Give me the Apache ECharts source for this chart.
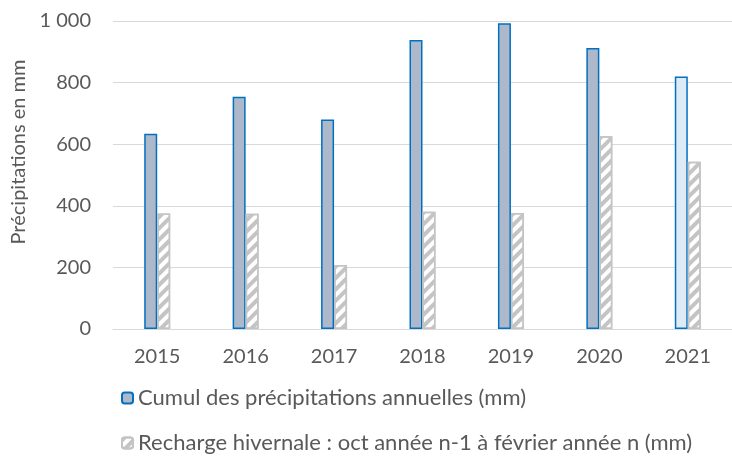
<!DOCTYPE html>
<html>
<head>
<meta charset="utf-8">
<script src="https://cdn.jsdelivr.net/npm/echarts@6/dist/echarts.min.js"></script>
<style>
  html, body { margin: 0; padding: 0; background: #fff; }
  #main { width: 732px; height: 456px; }
</style>
</head>
<body>
<div id="main"></div>
<script>
// years and values
const years = ['2015', '2016', '2017', '2018', '2019', '2020', '2021'];
const cumulAnnuel = [634, 754, 680, 938, 993, 912, 820];
const rechargeHiver = [375, 374, 208, 381, 377, 626, 543];
const yTicks = [0, 200, 400, 600, 800, 1000];

const nameCumul = 'Cumul des précipitations annuelles (mm)';
const nameRecharge = 'Recharge hivernale : oct année n-1 à février année n (mm)';

const textColor = '#595959';
const font = 'Lato';

let chart = echarts.init(document.getElementById('main'));

// last year is drawn in a lighter fill
let cumulData = cumulAnnuel.map(function (v, i) {
  if (i === cumulAnnuel.length - 1) {
    return { value: v, itemStyle: { color: '#DEEBF7' } };
  }
  return v;
});

// one legend per line, like the original
function legendAt(top, name) {
  return {
    left: 121,
    top: top,
    padding: 0,
    itemWidth: 11,
    itemHeight: 11,
    itemGap: 0,
    textStyle: { fontFamily: font, fontSize: 22, color: textColor },
    data: [name]
  };
}

chart.setOption({
  animation: false,
  textStyle: { fontFamily: font },
  grid: { left: 113, right: -7, top: 21, bottom: 127 },
  legend: [legendAt(387, nameCumul), legendAt(432, nameRecharge)],
  xAxis: {
    type: 'category',
    data: years,
    axisLine: { lineStyle: { color: '#d9d9d9', width: 1 } },
    axisTick: { show: false },
    axisLabel: { color: textColor, fontSize: 20, margin: 18, fontFamily: font }
  },
  yAxis: {
    type: 'value',
    min: yTicks[0],
    max: yTicks[yTicks.length - 1],
    interval: 200,
    name: 'Précipitations en mm',
    nameLocation: 'middle',
    nameGap: 82,
    nameTextStyle: { color: textColor, fontSize: 20, fontFamily: font, padding: [0, 0, 0, 46] },
    axisLabel: {
      color: textColor, fontSize: 20, margin: 22, fontFamily: font,
      formatter: function (v) { return v >= 1000 ? '1 000' : String(v); }
    },
    splitLine: { lineStyle: { color: '#d9d9d9', width: 1 } }
  },
  series: [
    {
      name: nameCumul,
      type: 'bar',
      data: cumulData,
      barWidth: 13,
      barGap: '0%',
      itemStyle: { color: '#ADB9CA', borderColor: '#0070C0', borderWidth: 1.5 }
    },
    {
      name: nameRecharge,
      type: 'bar',
      data: rechargeHiver,
      barWidth: 13,
      itemStyle: {
        color: '#ffffff',
        borderColor: '#c4c4c4',
        borderWidth: 1.5,
        decal: {
          symbol: 'rect',
          color: '#c4c4c4',
          dashArrayX: [1, 0],
          dashArrayY: [4, 4],
          rotation: -Math.PI / 4
        }
      }
    }
  ]
});
</script>
</body>
</html>
